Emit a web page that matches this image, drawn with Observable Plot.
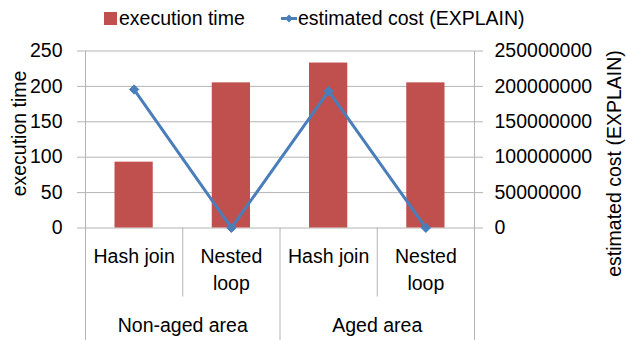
<!DOCTYPE html>
<html>
<head>
<meta charset="utf-8">
<script src="https://cdn.jsdelivr.net/npm/d3@7"></script>
<script src="https://cdn.jsdelivr.net/npm/@observablehq/plot@0.6"></script>
<style>
  body { margin: 0; background: #fff; font-family: "Liberation Sans", Arial, sans-serif; }
  #legend { position: relative; width: 626px; height: 38px; font-size: 19.5px; color: #000; }
  #legend .item { position: absolute; top: 7px; display: flex; align-items: center; white-space: nowrap; }
  #legend svg { display: block; }
  #chart svg { display: block; }
</style>
</head>
<body>
<div id="legend"></div>
<div id="chart"></div>
<script>
// Join strategies, grouped by storage area
const groups = ["Non-aged area", "Non-aged area", "Aged area", "Aged area"];
const joins = ["Hash join", "Nested\nloop", "Hash join", "Nested\nloop"];

// Measured execution time (left axis)
const executionTime = [93, 205, 233, 205];
// Planner estimate from EXPLAIN (right axis)
const estimatedCost = [195600000, 200000, 193200000, 200000];

// Left-axis ticks; the right axis shares them, scaled by COST_UNIT
const timeTicks = [0, 50, 100, 150, 200, 250];
const COST_UNIT = 1000000;

const RED = "#c0504d";
const BLUE = "#4a7ebb";
const GRID = "#b4b4b4";
const FONT = "Liberation Sans, Arial, sans-serif";

const rows = joins.map((join, i) => ({
  i, group: groups[i], join, time: executionTime[i], cost: estimatedCost[i]
}));

// Group boundaries (between areas) and inner boundaries (within an area)
const outerBounds = [];
const innerBounds = [];
for (let i = 1; i < rows.length; i++) {
  (groups[i] !== groups[i - 1] ? outerBounds : innerBounds).push(i);
}
const groupLabels = Array.from(d3.group(rows, d => d.group), ([name, members]) => ({
  name, center: d3.mean(members, d => d.i) + 0.5
}));

const width = 626, height = 302;
const marginTop = 12.5, marginBottom = 112.5, marginLeft = 85, marginRight = 152;
const frameHeight = height - marginTop - marginBottom;

const chart = Plot.plot({
  width, height, marginTop, marginBottom, marginLeft, marginRight,
  style: { fontFamily: FONT, fontSize: "19.5px", color: "#000", background: "#fff", overflow: "visible" },
  x: { domain: [0, rows.length], axis: null },
  y: { domain: [0, 250], axis: null },
  marks: [
    // horizontal gridlines and baseline
    Plot.ruleY(timeTicks, { stroke: GRID, strokeWidth: 1 }),
    // left and right axis lines, extended through the category label area
    Plot.ruleX([0, rows.length], { stroke: GRID, insetBottom: -marginBottom }),
    // separators between areas
    Plot.ruleX(outerBounds, { stroke: GRID, insetTop: frameHeight, insetBottom: -marginBottom }),
    // separators between join strategies
    Plot.ruleX(innerBounds, { stroke: GRID, insetTop: frameHeight, insetBottom: -69 }),
    // execution time bars
    Plot.rectY(rows, {
      x1: d => d.i, x2: d => d.i + 1, y: "time",
      insetLeft: 29.5, insetRight: 29.5, fill: RED
    }),
    // estimated cost line with diamond markers
    Plot.line(rows, { x: d => d.i + 0.5, y: d => d.cost / COST_UNIT, stroke: BLUE, strokeWidth: 3 }),
    Plot.dot(rows, { x: d => d.i + 0.5, y: d => d.cost / COST_UNIT, symbol: "diamond2", r: 4.2, fill: BLUE, stroke: BLUE, strokeWidth: 1 }),
    // left axis
    Plot.axisY(timeTicks, {
      anchor: "left", tickSize: 8, tickPadding: 15, stroke: GRID, fill: "#000",
      fontSize: 19.5, label: null
    }),
    // right axis (cost)
    Plot.axisY(timeTicks, {
      anchor: "right", tickSize: 8, tickPadding: 12, stroke: GRID, fill: "#000",
      fontSize: 19.5, label: null, tickFormat: d => (d * COST_UNIT).toFixed(0)
    }),
    // join strategy labels
    Plot.text(rows, {
      x: d => d.i + 0.5, text: "join", frameAnchor: "bottom", lineAnchor: "top",
      dy: 16, lineHeight: 1.38, fontSize: 19.5, fill: "#000"
    }),
    // area labels
    Plot.text(groupLabels, {
      x: "center", text: "name", frameAnchor: "bottom", dy: 104, fontSize: 19.5, fill: "#000"
    }),
    // axis titles
    Plot.text(["execution time"], {
      text: d => d, frameAnchor: "left", textAnchor: "middle", rotate: -90,
      dx: -66, dy: -6, fontSize: 19.5, fill: "#000"
    }),
    Plot.text(["estimated cost (EXPLAIN)"], {
      text: d => d, frameAnchor: "right", textAnchor: "middle", rotate: -90,
      dx: 140, dy: 24, fontSize: 19.5, fill: "#000"
    })
  ]
});
document.getElementById("chart").append(chart);

// Legend
const legend = document.getElementById("legend");
legend.innerHTML = `
  <div class="item" style="left:104px">
    <svg width="15" height="13"><rect x="0" y="0" width="13" height="13" fill="${RED}"/></svg>
    <span>execution time</span>
  </div>
  <div class="item" style="left:281px">
    <svg width="17" height="13">
      <line x1="0" y1="6.5" x2="16" y2="6.5" stroke="${BLUE}" stroke-width="3"/>
      <path d="M8,2.5 L12,6.5 L8,10.5 L4,6.5 Z" fill="${BLUE}"/>
    </svg>
    <span>estimated cost (EXPLAIN)</span>
  </div>`;
</script>
</body>
</html>
